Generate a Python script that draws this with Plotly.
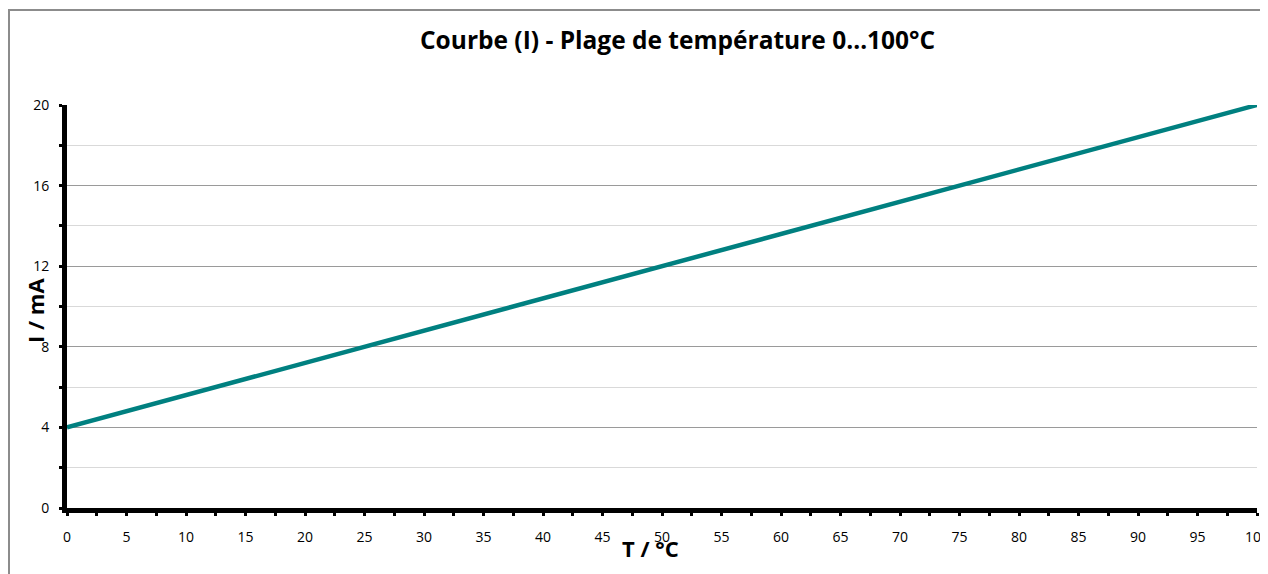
import plotly.graph_objects as go

temperature_c = [0, 100]
current_ma = [4, 20]
x_tick_vals = list(range(0, 101, 5))
y_tick_vals = [0, 4, 8, 12, 16, 20]

title_text = "Courbe (I) - Plage de température 0…100°C"
x_title = "T / °C"
y_title = "I / mA"

FONT = "Open Sans"
OFF = 8  # page body margin offset
W, H = 1268 - OFF, 574 - OFF
L, R_EDGE, T, B_EDGE = 67 - OFF, 1257 - OFF, 105 - OFF, 508 - OFF
PW, PH = R_EDGE - L, B_EDGE - T


def px(x):
    return (x - OFF - L) / PW


def py(y):
    return (B_EDGE - (y - OFF)) / PH


fig = go.Figure()
fig.add_trace(go.Scatter(
    x=temperature_c, y=current_ma, mode="lines",
    line=dict(color="#008080", width=4.5), hoverinfo="x+y", showlegend=False,
    cliponaxis=False,
))

fig.update_layout(
    width=W, height=H,
    margin=dict(l=L, r=W - R_EDGE, t=T, b=H - B_EDGE, autoexpand=False),
    paper_bgcolor="white", plot_bgcolor="white",
    font=dict(family=FONT, size=14, color="#000"),
    showlegend=False,
)

fig.update_xaxes(
    range=[0, 100], tickvals=x_tick_vals, ticktext=[str(v) for v in x_tick_vals],
    showgrid=False, zeroline=False, automargin=False, ticklabeloverflow="allow",
    showline=True, linecolor="black", linewidth=5,
    ticks="outside", ticklen=3, tickwidth=3, tickcolor="black",
    minor=dict(dtick=2.5, tick0=0, ticks="outside", ticklen=3, tickwidth=3, tickcolor="black", showgrid=False),
    tickfont=dict(family=FONT, size=14), ticklabelstandoff=9,
)
fig.update_yaxes(
    range=[0, 20], tickvals=y_tick_vals, ticktext=[str(v) for v in y_tick_vals],
    showgrid=True, gridcolor="#9a9a9a", gridwidth=1, zeroline=False, automargin=False,
    ticklabeloverflow="allow",
    showline=True, linecolor="black", linewidth=5,
    ticks="outside", ticklen=3, tickwidth=3, tickcolor="black",
    minor=dict(dtick=2, tick0=0, ticks="outside", ticklen=3, tickwidth=3, tickcolor="black",
               showgrid=True, gridcolor="#d9d9d9", gridwidth=1),
    tickfont=dict(family=FONT, size=14), ticklabelstandoff=7,
)

fig.add_annotation(text="<b>" + title_text + "</b>", xref="paper", yref="paper",
                   x=px(677), y=py(40), xanchor="center", yanchor="middle",
                   showarrow=False, font=dict(family=FONT, size=24.5, color="#000"))
fig.add_annotation(text="<b>" + x_title + "</b>", xref="paper", yref="paper",
                   x=px(650), y=py(548), xanchor="center", yanchor="middle",
                   showarrow=False, font=dict(family=FONT, size=22, color="#000"))
fig.add_annotation(text="<b>" + y_title + "</b>", xref="paper", yref="paper",
                   x=px(35), y=py(311), xanchor="center", yanchor="middle",
                   textangle=-90, showarrow=False, font=dict(family=FONT, size=22, color="#000"))

# chart-area border (left and top edges visible)
fig.add_shape(type="line", xref="paper", yref="paper",
              x0=px(9), x1=px(9), y0=py(590), y1=py(10),
              line=dict(color="#8c8c8c", width=2))
fig.add_shape(type="line", xref="paper", yref="paper",
              x0=px(8), x1=px(1290), y0=py(10), y1=py(10),
              line=dict(color="#8c8c8c", width=2))

fig.write_html("out.html")
